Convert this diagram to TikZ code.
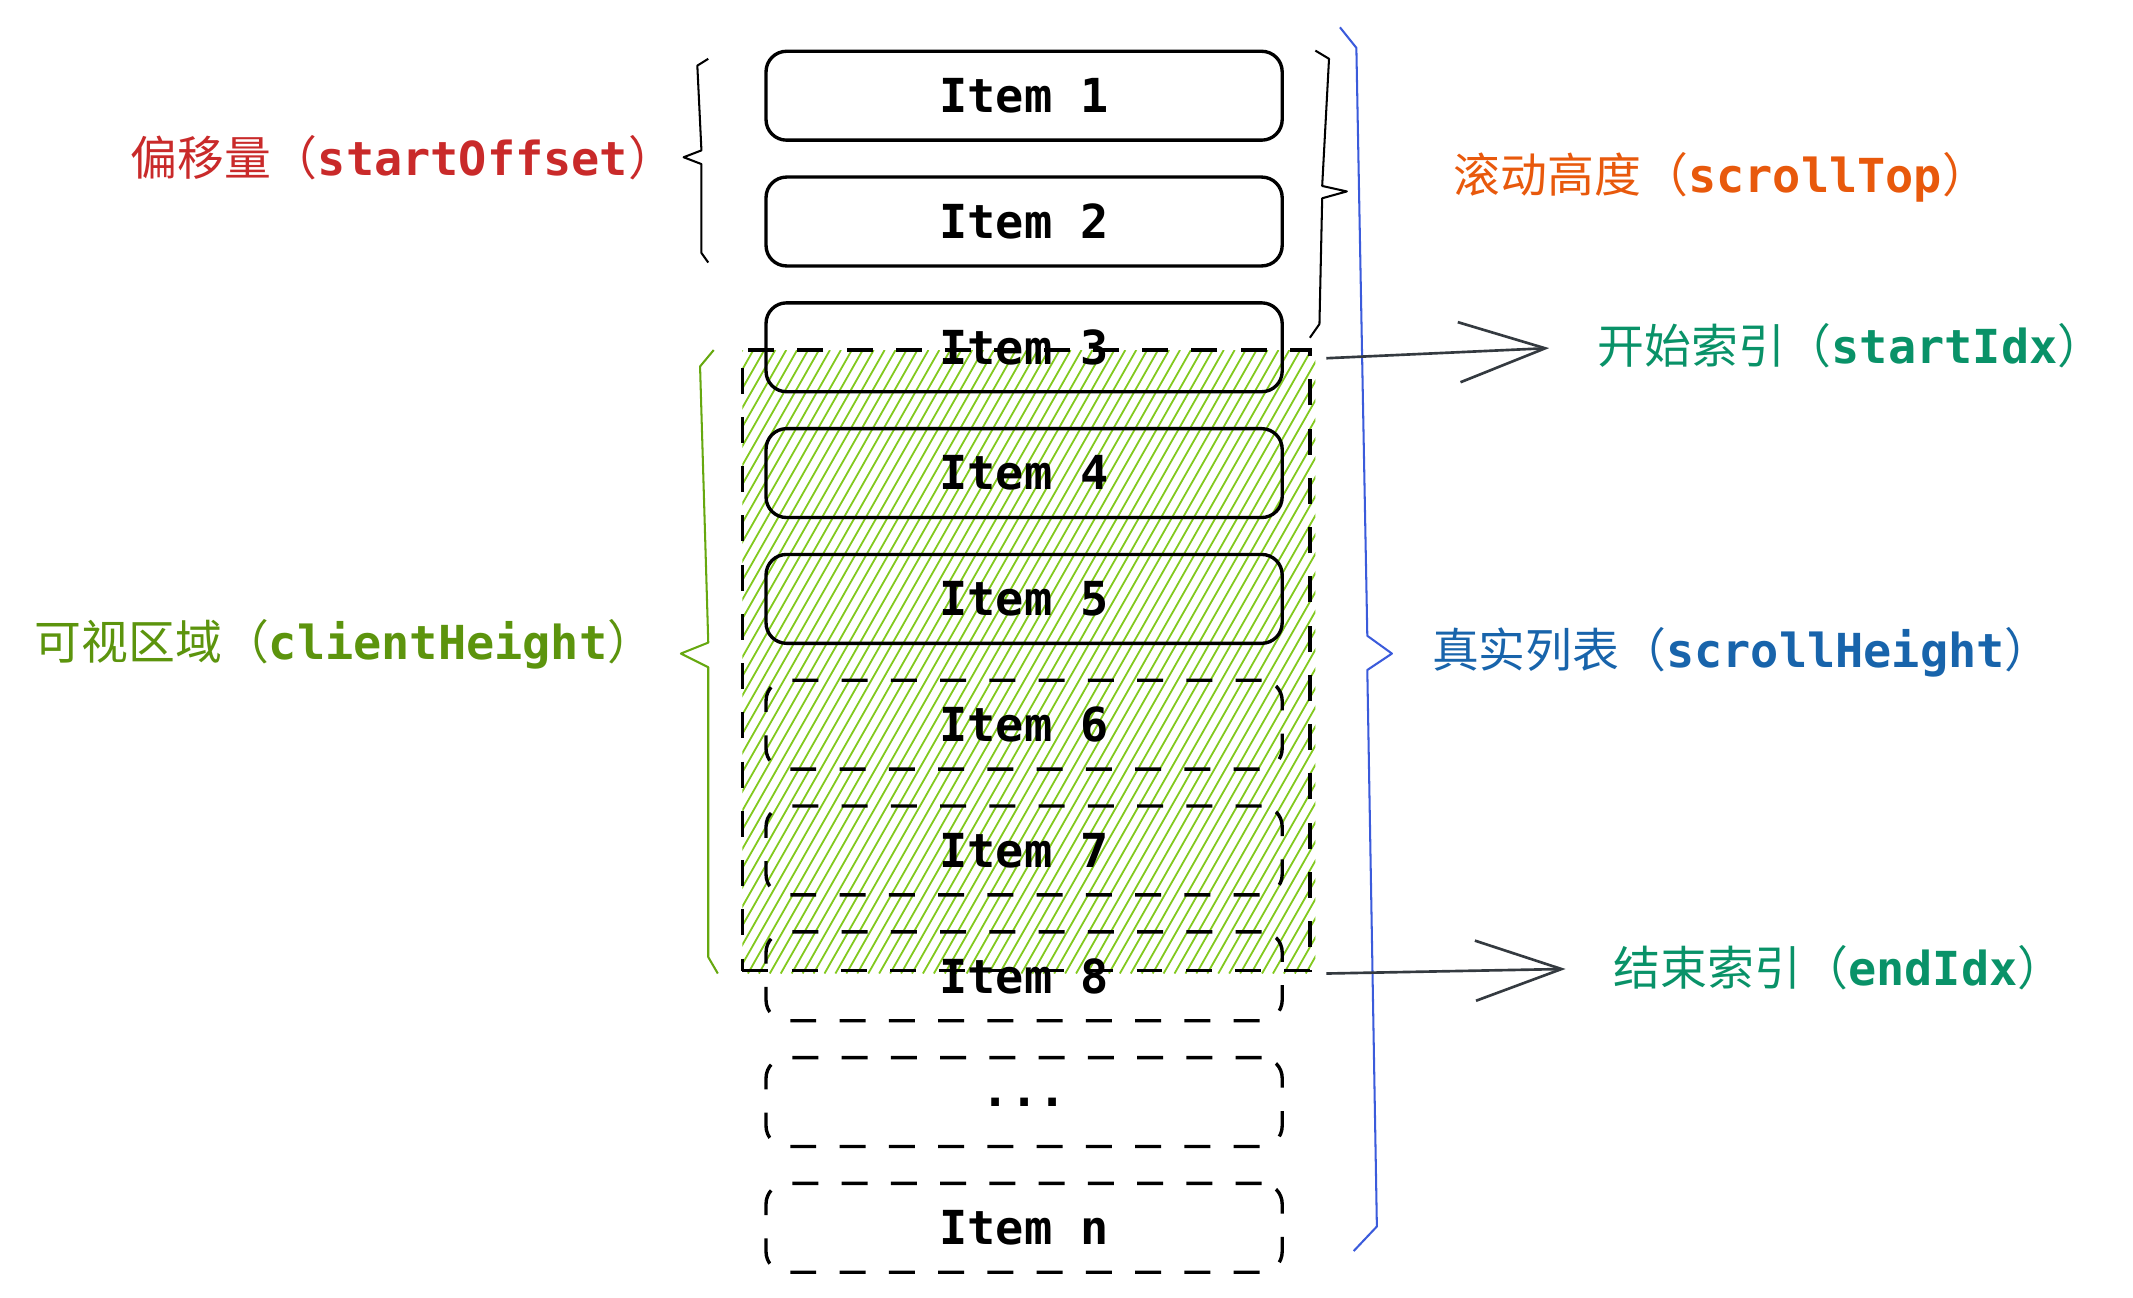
\documentclass[tikz,border=0pt]{standalone}
\usepackage{fontspec}
\setmonofont{DejaVu Sans Mono}
\newfontfamily\cjk{Noto Sans CJK SC}
\usetikzlibrary{arrows.meta}
\definecolor{offsetred}{HTML}{C92A2A}
\definecolor{toporange}{HTML}{E8590C}
\definecolor{idxteal}{HTML}{099268}
\definecolor{viewgreen}{HTML}{5C940D}
\definecolor{bracegreen}{HTML}{66A80F}
\definecolor{hatchgreen}{HTML}{82C91E}
\definecolor{listblue}{HTML}{1864AB}
\definecolor{braceblue}{HTML}{3B5BDB}
\definecolor{arrowgray}{HTML}{343A40}
\newcommand{\mixlabel}[2]{{\cjk #1（}{\ttfamily\bfseries #2}{\cjk ）}}

\begin{document}
\begin{tikzpicture}[x=0.2mm, y=-0.2mm,
    itembox/.style ={draw, line width=1.4pt, rounded corners=3mm, minimum width=75.5mm,
      minimum height=13mm, font=\ttfamily\bfseries\fontsize{19.5}{23}\selectfont},
    ghostbox/.style ={itembox, dash pattern=on 10.8pt off 9.7pt},
    viewbox/.style ={draw, line width=1.4pt, dash pattern=on 10.8pt off 9.7pt,
      minimum width=83mm, minimum height=90.8mm, inner sep=0pt},
    labeltext/.style ={anchor=west, inner sep=0pt, font=\fontsize{19.5}{23}\selectfont},
    bracepath/.style ={line width=0.85pt, line join=round},
    pointer/.style ={draw=arrowgray, line width=1.1pt,
      -{Straight Barb[length=12.6mm, width=8.8mm]}, shorten >=7mm},
    hatch/.style ={draw=hatchgreen, line width=0.75pt}]
   \useasboundingbox (0,0) rectangle (1560,948.6);

   % visible area hatching
   \begin{scope}
     \clip (543,256) rectangle (962,712);
     \foreach \i in {0,...,86}
       \draw[hatch] ({283+8*\i},712) -- ++(260,-456);
   \end{scope}

   % list items
   \foreach \i in {1,...,5}
     \node[itembox] (item\i) at (749,{70+92*(\i-1)}) {Item \i};
   \foreach \i in {6,7,8}
     \node[ghostbox] (item\i) at (749,{70+92*(\i-1)}) {Item \i};
   \node[ghostbox] (itemdots) at (749,806) {...};
   \node[ghostbox] (itemn)    at (749,898) {Item n};

   \node[viewbox] (view) at (750.5,483) {};

   % braces
   \draw[bracepath] (518,43) -- (510,48) -- (513,110) -- (500,115) -- (513,120) -- (513,185) -- (518,192);
   \draw[bracepath] (962,37) -- (972,43) -- (967,136) -- (985,140) -- (967,145) -- (965,237) -- (958,247);
   \draw[bracepath, draw=braceblue] (980,20) -- (992,35) -- (1000,465) -- (1018,478) -- (1000,490) -- (1007,897) -- (990,915);
   \draw[bracepath, draw=bracegreen] (522,256) -- (512,268) -- (518,470) -- (498,478) -- (518,488) -- (518,700) -- (525,712);

   % labels
   \node[labeltext, text=offsetred]  (offset)  at (95,115)   {\mixlabel{偏移量}{startOffset}};
   \node[labeltext, text=toporange]  (top)     at (1063,130) {\mixlabel{滚动高度}{scrollTop}};
   \node[labeltext, text=idxteal]    (startidx) at (1168,253) {\mixlabel{开始索引}{startIdx}};
   \node[labeltext, text=viewgreen]  (client)  at (25,471)   {\mixlabel{可视区域}{clientHeight}};
   \node[labeltext, text=listblue]   (scroll)  at (1047,477) {\mixlabel{真实列表}{scrollHeight}};
   \node[labeltext, text=idxteal]    (endidx)  at (1180,708) {\mixlabel{结束索引}{endIdx}};

   % index pointers
   \coordinate (startfrom) at (970,262);
   \coordinate (endfrom)   at (970,712);
   \draw[pointer] (startfrom) -- (startidx.west);
   \draw[pointer] (endfrom) -- (endidx.west);
 \end{tikzpicture}
\end{document}
